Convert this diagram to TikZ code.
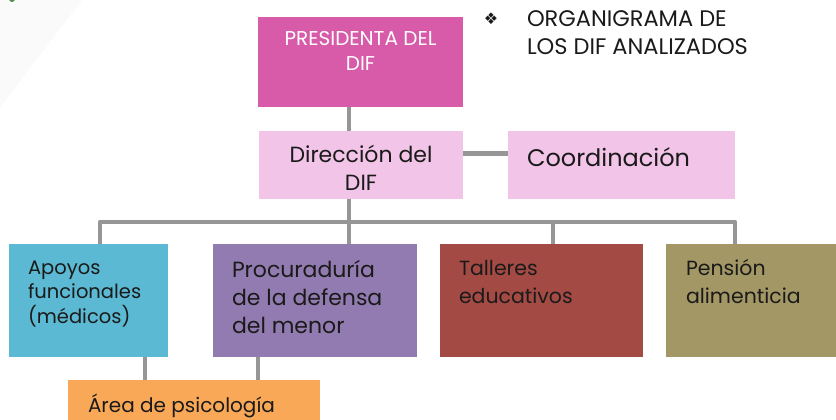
\documentclass[tikz,border=0pt]{standalone}
\usepackage{fontspec}
\setmainfont{Poppins}
\definecolor{cpres}{HTML}{D75BA9}
\definecolor{cdir}{HTML}{F2C4E8}
\definecolor{capo}{HTML}{5BB9D3}
\definecolor{cproc}{HTML}{927BB0}
\definecolor{ctal}{HTML}{A44A44}
\definecolor{cpen}{HTML}{A39766}
\definecolor{carea}{HTML}{F8A857}
\definecolor{cconn}{HTML}{969696}
\definecolor{ctext}{HTML}{1A1A1A}
\begin{document}
\begin{tikzpicture}[x=1pt,y=-1pt,
  box/.style={rectangle, draw=none, inner sep=0pt, outer sep=0pt},
  conn/.style={draw=cconn, line width=4.5pt},
  lbl/.style={inner sep=0pt, outer sep=0pt, text=ctext, align=left},
]
\useasboundingbox (0,0) rectangle (836,420);
% faint background
\fill[black!2] (0,0) -- (82,0) -- (0,108) -- cycle;
\fill[green!40!black, opacity=0.7] (12,-1) circle (3);
% boxes
\node[box, fill=cpres, minimum width=205, minimum height=90] (pres) at (360.5,62) {};
\node[box, fill=cdir, minimum width=204, minimum height=68] (dir) at (361,165) {};
\node[box, fill=cdir, minimum width=227, minimum height=68] (coord) at (621.5,165) {};
\node[box, fill=capo, minimum width=159, minimum height=113] (apoyos) at (88.5,300.5) {};
\node[box, fill=cproc, minimum width=204, minimum height=113] (proc) at (315,300.5) {};
\node[box, fill=ctal, minimum width=203, minimum height=113] (tal) at (541.5,300.5) {};
\node[box, fill=cpen, minimum width=170, minimum height=113] (pen) at (751,300.5) {};
\node[box, fill=carea, minimum width=252, minimum height=44] (area) at (194,402) {};
% bus coordinates
\coordinate (a1) at (100,222);
\coordinate (a2) at (349,222);
\coordinate (a3) at (553,222);
\coordinate (a4) at (735,222);
\coordinate (b1) at (145,370);
\coordinate (b2) at (258,370);
% connectors
\draw[conn] (pres.south -| a2) -- (dir.north -| a2);
\draw[conn] ([yshift=11.5pt]dir.east) -- ([yshift=11.5pt]coord.west);
\draw[conn] (dir.south -| a2) -- (proc.north -| a2);
\draw[conn, line join=round] (apoyos.north -| a1) -- (a1) -- (a4) -- (pen.north -| a4);
\draw[conn] (a3) -- (tal.north -| a3);
\draw[conn] (apoyos.south -| b1) -- (area.north -| b1);
\draw[conn] (proc.south -| b2) -- (area.north -| b2);
% texts (anchor base = baseline of last line)
\node[lbl, text=white, align=center, font=\fontsize{20}{25}\selectfont, anchor=base] (tpres) at (360.5,71) {PRESIDENTA DEL\\DIF};
\node[lbl, align=center, font=\fontsize{22}{28}\selectfont, anchor=base] (tdir) at (361,190) {Dirección del\\DIF};
\node[lbl, font=\fontsize{24}{28}\selectfont, anchor=base west] (tcoord) at (527,166) {Coordinación};
\node[lbl, font=\fontsize{19.5}{24.5}\selectfont, anchor=base west] (tapo) at (28,323) {Apoyos\\funcionales\\(médicos)};
\node[lbl, font=\fontsize{22}{28}\selectfont, anchor=base west] (tproc) at (232,333) {Procuraduría\\de la defensa\\del menor};
\node[lbl, font=\fontsize{20.5}{28}\selectfont, anchor=base west] (ttal) at (459,303) {Talleres\\educativos};
\node[lbl, font=\fontsize{20.5}{28}\selectfont, anchor=base west] (tpen) at (686,303) {Pensión\\alimenticia};
\node[lbl, font=\fontsize{20}{24}\selectfont, anchor=base west] (tarea) at (88,412) {Área de psicología};
% title
\node[lbl, font=\fontsize{16}{18}\selectfont, anchor=base] (bul) at (491,25) {\fontspec{DejaVu Sans}❖};
\node[lbl, font=\fontsize{22.5}{28}\selectfont, anchor=base west] (title) at (527,55) {ORGANIGRAMA DE\\LOS DIF ANALIZADOS};
\end{tikzpicture}
\end{document}
